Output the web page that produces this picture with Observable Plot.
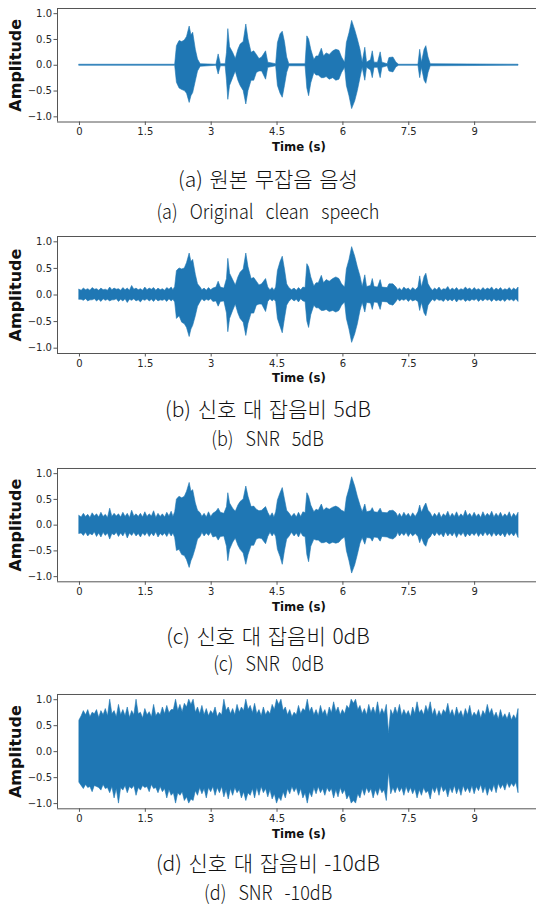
<!DOCTYPE html>
<html><head><meta charset="utf-8">
<script src="https://cdn.jsdelivr.net/npm/d3@7"></script>
<script src="https://cdn.jsdelivr.net/npm/@observablehq/plot@0.6"></script>
<style>
html,body{margin:0;padding:0;background:#fff}
body{width:536px;height:905px;overflow:hidden;position:relative}
.panel{position:absolute;left:0;max-width:none !important}
.cap{position:absolute;left:0;width:536px;text-align:center;font-family:"Noto Sans CJK KR","Noto Sans",sans-serif;font-weight:300;color:#111;white-space:nowrap;line-height:1}
.cap span{display:inline-block;transform-origin:center}
.k{font-size:21px;word-spacing:2px}
.e{font-size:20px;word-spacing:9px}
.e span{transform:scaleX(0.9)}
</style></head><body>
<script>
// ---- data ----
const xTicks = [0, 1.5, 3, 4.5, 6, 7.5, 9];
const xTickLabels = ["0", "1.5", "3", "4.5", "6", "7.5", "9"];
const yTicks = [-1, -0.5, 0, 0.5, 1];
const yTickLabels = ["\u22121.0", "\u22120.5", "0.0", "0.5", "1.0"];

const captionsKo = ["(a) 원본 무잡음 음성", "(b) 신호 대 잡음비 5dB", "(c) 신호 대 잡음비 0dB", "(d) 신호 대 잡음비 -10dB"];
const captionsEn = ["(a) Original clean speech", "(b) SNR 5dB", "(c) SNR 0dB", "(d) SNR -10dB"];

// (a) clean speech envelope
const tA  = [0.0,2.18,2.22,2.28,2.34,2.40,2.45,2.51,2.55,2.59,2.65,2.70,2.76,3.12,3.17,3.22,3.33,3.36,3.39,3.43,3.50,3.56,3.62,3.67,3.74,3.80,3.85,3.92,3.98,4.04,4.10,4.16,4.25,4.30,4.48,4.52,4.58,4.63,4.68,4.73,4.78,5.15,5.19,5.23,5.28,5.35,5.40,5.45,5.52,5.57,5.63,5.70,5.78,5.85,5.92,5.98,6.05,6.09,6.15,6.21,6.28,6.34,6.40,6.45,6.51,6.55,6.64,6.68,6.72,6.80,6.86,6.90,7.02,7.06,7.15,7.22,7.28,7.72,7.76,7.80,7.86,7.90,7.95,8.00,10.0];
const hiA = [0.01,0.01,0.37,0.47,0.45,0.48,0.55,0.75,0.58,0.63,0.30,0.11,0.02,0.01,0.21,0.02,0.02,0.24,0.70,0.35,0.24,0.12,0.30,0.40,0.45,0.79,0.50,0.24,0.27,0.20,0.12,0.15,0.27,0.05,0.02,0.43,0.60,0.65,0.45,0.15,0.02,0.02,0.56,0.50,0.30,0.10,0.17,0.17,0.32,0.17,0.23,0.20,0.27,0.30,0.28,0.15,0.05,0.43,0.62,0.86,0.68,0.50,0.30,0.05,0.34,0.05,0.10,0.27,0.05,0.05,0.25,0.05,0.02,0.14,0.15,0.05,0.01,0.01,0.30,0.05,0.30,0.37,0.15,0.02,0.01];
const loA = [-0.01,-0.01,-0.34,-0.45,-0.48,-0.50,-0.55,-0.73,-0.60,-0.54,-0.31,-0.12,-0.03,-0.01,-0.18,-0.02,-0.02,-0.30,-0.67,-0.40,-0.25,-0.12,-0.30,-0.40,-0.50,-0.76,-0.50,-0.30,-0.30,-0.15,-0.12,-0.12,-0.28,-0.05,-0.02,-0.40,-0.55,-0.63,-0.40,-0.15,-0.02,-0.02,-0.45,-0.60,-0.35,-0.15,-0.20,-0.20,-0.25,-0.25,-0.23,-0.28,-0.25,-0.30,-0.28,-0.15,-0.05,-0.40,-0.60,-0.85,-0.70,-0.50,-0.25,-0.05,-0.30,-0.05,-0.10,-0.25,-0.05,-0.05,-0.25,-0.05,-0.02,-0.12,-0.14,-0.04,-0.01,-0.01,-0.25,-0.05,-0.30,-0.36,-0.15,-0.02,-0.01];

// (b) SNR 5 dB envelope: peaks of the waveform
const tB  = [0.0,0.1,0.2,0.3,0.4,0.5,0.6,0.7,0.8,0.9,1.0,1.1,1.2,1.3,1.4,1.5,1.6,1.7,1.8,1.9,2.0,2.1,2.18,2.22,2.28,2.34,2.40,2.45,2.51,2.55,2.59,2.65,2.70,2.76,2.85,2.95,3.05,3.12,3.17,3.22,3.30,3.36,3.39,3.43,3.50,3.56,3.62,3.67,3.74,3.80,3.85,3.92,3.98,4.04,4.10,4.16,4.25,4.30,4.40,4.48,4.52,4.58,4.63,4.68,4.73,4.78,4.90,5.00,5.10,5.15,5.19,5.23,5.28,5.35,5.40,5.45,5.52,5.57,5.63,5.70,5.78,5.85,5.92,5.98,6.05,6.09,6.15,6.21,6.28,6.34,6.40,6.45,6.51,6.55,6.64,6.68,6.72,6.80,6.86,6.90,7.02,7.06,7.15,7.22,7.30,7.40,7.50,7.60,7.72,7.76,7.80,7.86,7.90,7.95,8.00,8.1,8.2,8.3,8.4,8.5,8.6,8.7,8.8,8.9,9.0,9.1,9.2,9.3,9.4,9.5,9.6,9.7,9.8,9.9,10.0];
const hiB = [0.10,0.12,0.11,0.13,0.11,0.12,0.10,0.14,0.12,0.11,0.13,0.12,0.17,0.12,0.11,0.14,0.12,0.13,0.12,0.11,0.13,0.14,0.15,0.45,0.50,0.48,0.50,0.60,0.78,0.62,0.66,0.38,0.20,0.14,0.12,0.13,0.12,0.14,0.25,0.14,0.12,0.30,0.68,0.40,0.28,0.18,0.33,0.42,0.48,0.78,0.52,0.30,0.32,0.25,0.18,0.20,0.30,0.14,0.13,0.14,0.45,0.62,0.72,0.48,0.20,0.13,0.12,0.13,0.14,0.13,0.58,0.52,0.33,0.16,0.22,0.22,0.36,0.22,0.28,0.25,0.30,0.33,0.30,0.20,0.14,0.48,0.66,0.90,0.72,0.52,0.35,0.15,0.37,0.15,0.17,0.30,0.15,0.14,0.28,0.14,0.13,0.20,0.20,0.14,0.12,0.14,0.12,0.13,0.14,0.35,0.14,0.34,0.40,0.20,0.13,0.12,0.14,0.11,0.15,0.12,0.13,0.11,0.14,0.12,0.13,0.11,0.13,0.12,0.14,0.12,0.13,0.11,0.13,0.12,0.14];
const loB = [-0.09,-0.11,-0.12,-0.10,-0.12,-0.13,-0.11,-0.12,-0.10,-0.13,-0.12,-0.15,-0.11,-0.12,-0.14,-0.11,-0.12,-0.13,-0.12,-0.11,-0.13,-0.12,-0.14,-0.45,-0.40,-0.52,-0.55,-0.62,-0.79,-0.65,-0.58,-0.40,-0.22,-0.13,-0.12,-0.11,-0.13,-0.12,-0.22,-0.13,-0.12,-0.35,-0.70,-0.45,-0.30,-0.18,-0.35,-0.45,-0.52,-0.77,-0.54,-0.35,-0.35,-0.20,-0.18,-0.18,-0.32,-0.13,-0.12,-0.13,-0.45,-0.60,-0.72,-0.45,-0.20,-0.13,-0.12,-0.14,-0.12,-0.13,-0.50,-0.62,-0.38,-0.20,-0.25,-0.25,-0.30,-0.30,-0.28,-0.32,-0.30,-0.33,-0.30,-0.20,-0.14,-0.45,-0.65,-0.90,-0.74,-0.55,-0.30,-0.15,-0.33,-0.15,-0.16,-0.28,-0.14,-0.15,-0.28,-0.13,-0.14,-0.18,-0.20,-0.13,-0.12,-0.11,-0.13,-0.12,-0.13,-0.30,-0.15,-0.35,-0.40,-0.20,-0.14,-0.12,-0.11,-0.13,-0.12,-0.12,-0.14,-0.11,-0.13,-0.12,-0.11,-0.13,-0.12,-0.11,-0.13,-0.12,-0.12,-0.13,-0.11,-0.12,-0.13];
// (b) valleys between the noise spikes
const tNoise = [0.05,0.15,0.25,0.35,0.45,0.55,0.65,0.75,0.85,0.95,1.05,1.15,1.25,1.35,1.45,1.55,1.65,1.75,1.85,1.95,2.05,2.14,2.80,2.90,3.00,4.35,4.44,4.84,4.95,5.05,7.26,7.35,7.45,7.55,7.66,8.05,8.15,8.25,8.35,8.45,8.55,8.65,8.75,8.85,8.95,9.05,9.15,9.25,9.35,9.45,9.55,9.65,9.75,9.85,9.95];
const hiB2 = [0.08,0.09,0.08,0.10,0.08,0.09,0.08,0.09,0.10,0.08,0.09,0.08,0.10,0.09,0.08,0.09,0.10,0.08,0.09,0.08,0.10,0.09,0.09,0.08,0.09,0.09,0.08,0.09,0.08,0.09,0.09,0.08,0.10,0.08,0.09,0.08,0.09,0.08,0.10,0.08,0.09,0.08,0.09,0.10,0.08,0.09,0.08,0.09,0.10,0.08,0.09,0.08,0.09,0.08,0.09];
const loB2 = [-0.09,-0.08,-0.10,-0.08,-0.09,-0.08,-0.09,-0.10,-0.08,-0.09,-0.08,-0.09,-0.08,-0.10,-0.09,-0.08,-0.09,-0.08,-0.10,-0.09,-0.08,-0.09,-0.08,-0.09,-0.08,-0.08,-0.09,-0.08,-0.09,-0.08,-0.08,-0.09,-0.08,-0.09,-0.10,-0.09,-0.08,-0.10,-0.08,-0.09,-0.08,-0.09,-0.08,-0.10,-0.09,-0.08,-0.09,-0.08,-0.09,-0.08,-0.10,-0.09,-0.08,-0.09,-0.08];

// (c) SNR 0 dB envelope: peaks of the waveform
const tC  = tB;
const hiC = [0.18,0.22,0.20,0.23,0.21,0.24,0.20,0.32,0.22,0.21,0.24,0.22,0.28,0.21,0.22,0.25,0.21,0.27,0.22,0.21,0.24,0.26,0.25,0.50,0.55,0.52,0.55,0.65,0.82,0.65,0.68,0.42,0.28,0.23,0.22,0.25,0.22,0.26,0.32,0.24,0.22,0.35,0.62,0.42,0.32,0.26,0.38,0.45,0.50,0.75,0.55,0.35,0.36,0.30,0.27,0.28,0.35,0.24,0.23,0.25,0.48,0.62,0.72,0.50,0.28,0.23,0.22,0.24,0.25,0.23,0.62,0.55,0.38,0.25,0.30,0.28,0.40,0.28,0.33,0.30,0.34,0.36,0.33,0.28,0.25,0.52,0.70,0.93,0.75,0.55,0.38,0.25,0.40,0.25,0.27,0.33,0.25,0.24,0.32,0.24,0.23,0.27,0.28,0.23,0.22,0.24,0.22,0.23,0.25,0.38,0.24,0.36,0.42,0.28,0.23,0.22,0.24,0.21,0.26,0.22,0.25,0.21,0.28,0.22,0.24,0.21,0.25,0.22,0.26,0.22,0.24,0.21,0.25,0.22,0.24];
const loC = [-0.17,-0.21,-0.22,-0.20,-0.23,-0.24,-0.21,-0.28,-0.20,-0.23,-0.22,-0.26,-0.21,-0.22,-0.24,-0.21,-0.23,-0.22,-0.24,-0.21,-0.23,-0.22,-0.25,-0.50,-0.48,-0.58,-0.60,-0.68,-0.83,-0.70,-0.62,-0.45,-0.28,-0.23,-0.22,-0.21,-0.24,-0.22,-0.30,-0.23,-0.22,-0.42,-0.70,-0.48,-0.34,-0.26,-0.40,-0.48,-0.55,-0.77,-0.58,-0.40,-0.40,-0.28,-0.26,-0.27,-0.37,-0.23,-0.22,-0.23,-0.48,-0.62,-0.77,-0.50,-0.28,-0.23,-0.22,-0.24,-0.22,-0.23,-0.58,-0.72,-0.42,-0.28,-0.30,-0.30,-0.35,-0.35,-0.33,-0.37,-0.34,-0.36,-0.34,-0.28,-0.24,-0.50,-0.70,-0.94,-0.78,-0.58,-0.36,-0.25,-0.38,-0.25,-0.26,-0.32,-0.24,-0.25,-0.32,-0.23,-0.24,-0.26,-0.28,-0.23,-0.22,-0.21,-0.23,-0.22,-0.23,-0.35,-0.25,-0.38,-0.42,-0.28,-0.24,-0.22,-0.21,-0.24,-0.22,-0.22,-0.25,-0.21,-0.24,-0.22,-0.21,-0.23,-0.22,-0.21,-0.23,-0.22,-0.22,-0.24,-0.21,-0.22,-0.25];
// (c) valleys between the noise spikes
const hiC2 = [0.15,0.16,0.14,0.17,0.15,0.16,0.14,0.16,0.17,0.15,0.16,0.14,0.17,0.16,0.15,0.16,0.17,0.14,0.16,0.15,0.17,0.16,0.16,0.15,0.16,0.16,0.15,0.16,0.15,0.16,0.16,0.15,0.17,0.15,0.16,0.15,0.16,0.14,0.17,0.15,0.16,0.15,0.16,0.17,0.15,0.16,0.14,0.16,0.17,0.15,0.16,0.15,0.16,0.14,0.16];
const loC2 = [-0.16,-0.15,-0.17,-0.14,-0.16,-0.15,-0.16,-0.17,-0.15,-0.16,-0.14,-0.16,-0.15,-0.17,-0.16,-0.15,-0.16,-0.14,-0.17,-0.16,-0.15,-0.16,-0.15,-0.16,-0.15,-0.15,-0.16,-0.15,-0.16,-0.15,-0.15,-0.16,-0.15,-0.16,-0.17,-0.16,-0.15,-0.17,-0.14,-0.16,-0.15,-0.16,-0.15,-0.17,-0.16,-0.15,-0.16,-0.14,-0.16,-0.15,-0.17,-0.16,-0.15,-0.16,-0.15];

// (d) SNR -10 dB envelope
const tD  = [0.00,0.05,0.10,0.15,0.20,0.25,0.30,0.35,0.40,0.45,0.50,0.55,0.60,0.65,0.70,0.75,0.80,0.85,0.90,0.95,1.00,1.05,1.10,1.15,1.20,1.25,1.30,1.35,1.40,1.45,1.50,1.55,1.60,1.65,1.70,1.75,1.80,1.85,1.90,1.95,2.00,2.05,2.10,2.15,2.20,2.25,2.30,2.35,2.40,2.45,2.50,2.55,2.60,2.65,2.70,2.75,2.80,2.85,2.90,2.95,3.00,3.05,3.10,3.15,3.20,3.25,3.30,3.35,3.40,3.45,3.50,3.55,3.60,3.65,3.70,3.75,3.80,3.85,3.90,3.95,4.00,4.05,4.10,4.15,4.20,4.25,4.30,4.35,4.40,4.45,4.50,4.55,4.60,4.65,4.70,4.75,4.80,4.85,4.90,4.95,5.00,5.05,5.10,5.15,5.20,5.25,5.30,5.35,5.40,5.45,5.50,5.55,5.60,5.65,5.70,5.75,5.80,5.85,5.90,5.95,6.00,6.05,6.10,6.15,6.20,6.25,6.30,6.35,6.40,6.45,6.50,6.55,6.60,6.65,6.70,6.75,6.80,6.85,6.90,6.95,7.00,7.05,7.10,7.15,7.20,7.25,7.30,7.35,7.40,7.45,7.50,7.55,7.60,7.65,7.70,7.75,7.80,7.85,7.90,7.95,8.00,8.05,8.10,8.15,8.20,8.25,8.30,8.35,8.40,8.45,8.50,8.55,8.60,8.65,8.70,8.75,8.80,8.85,8.90,8.95,9.00,9.05,9.10,9.15,9.20,9.25,9.30,9.35,9.40,9.45,9.50,9.55,9.60,9.65,9.70,9.75,9.80,9.85,9.90,9.95,10.00];
const hiD = [0.60,0.68,0.78,0.70,0.80,0.66,0.75,0.72,0.80,0.65,0.78,0.70,0.82,0.68,1.00,0.72,0.78,0.66,0.90,0.70,0.80,0.68,0.85,0.65,0.78,0.70,1.00,0.72,0.75,0.64,0.82,0.70,0.76,0.66,0.90,0.68,0.75,0.70,0.85,0.72,0.88,0.74,0.80,0.80,1.00,0.78,0.90,0.76,0.92,0.85,1.00,0.90,1.00,0.75,0.85,0.72,0.88,0.70,0.82,0.68,0.78,0.72,0.85,0.66,0.75,0.70,1.00,0.78,0.85,0.72,0.82,0.70,0.90,0.75,0.85,0.78,1.00,0.80,0.88,0.74,0.92,0.72,0.80,0.68,0.85,0.70,0.78,0.72,0.90,0.80,1.00,0.90,1.00,0.78,0.85,0.70,0.80,0.66,0.75,0.70,0.88,0.72,0.82,0.78,1.00,0.76,0.85,0.70,0.80,0.68,0.88,0.72,0.80,0.66,0.85,0.74,0.95,0.76,0.85,0.70,0.80,0.72,0.88,0.82,1.00,0.92,1.00,0.80,0.88,0.72,0.82,0.70,0.90,0.74,0.85,0.72,0.95,0.70,0.82,0.72,0.90,0.35,0.80,0.70,0.85,0.72,0.90,0.68,0.80,0.70,0.78,0.66,0.85,0.72,0.95,0.74,0.80,0.70,0.88,0.76,0.95,0.70,0.82,0.66,0.78,0.68,0.80,0.74,0.92,0.70,0.80,0.66,0.85,0.70,0.78,0.65,0.82,0.70,0.88,0.66,0.75,0.68,0.80,0.64,0.78,0.70,0.90,0.72,0.82,0.66,0.75,0.62,0.80,0.64,0.72,0.62,0.75,0.60,0.70,0.62,0.82];
const loD = [-0.60,-0.66,-0.72,-0.64,-0.70,-0.68,-0.78,-0.66,-0.68,-0.70,-0.75,-0.64,-0.72,-0.70,-0.80,-0.68,-0.90,-0.72,-1.00,-0.70,-0.75,-0.66,-0.80,-0.68,-0.72,-0.66,-0.85,-0.70,-0.75,-0.66,-0.70,-0.68,-0.78,-0.64,-0.72,-0.70,-0.80,-0.68,-0.78,-0.72,-0.90,-0.74,-0.85,-0.80,-1.00,-0.80,-0.85,-0.78,-0.95,-0.88,-1.00,-0.92,-0.95,-0.76,-0.85,-0.70,-0.82,-0.72,-0.90,-0.70,-0.78,-0.68,-0.85,-0.70,-0.80,-0.68,-0.88,-0.74,-0.92,-0.72,-0.85,-0.70,-0.80,-0.74,-0.90,-0.78,-0.95,-0.80,-0.85,-0.72,-0.90,-0.70,-0.85,-0.68,-0.80,-0.72,-0.88,-0.74,-0.92,-0.82,-1.00,-0.88,-0.95,-0.78,-0.90,-0.72,-0.82,-0.68,-0.78,-0.70,-0.85,-0.72,-0.90,-0.80,-1.00,-0.78,-0.88,-0.70,-0.82,-0.68,-0.80,-0.72,-0.85,-0.70,-0.78,-0.72,-0.90,-0.74,-0.88,-0.70,-0.82,-0.74,-0.92,-0.84,-1.00,-0.95,-1.00,-0.82,-0.90,-0.72,-0.85,-0.70,-0.80,-0.72,-0.90,-0.74,-0.85,-0.70,-0.80,-0.74,-0.95,-0.40,-0.82,-0.70,-0.80,-0.68,-0.78,-0.70,-0.85,-0.68,-0.80,-0.70,-0.82,-0.72,-0.90,-0.74,-0.85,-0.70,-0.80,-0.76,-0.92,-0.70,-0.80,-0.68,-0.85,-0.66,-0.78,-0.72,-0.88,-0.70,-0.80,-0.66,-0.82,-0.70,-0.85,-0.66,-0.78,-0.70,-0.80,-0.66,-0.82,-0.68,-0.76,-0.64,-0.80,-0.68,-0.85,-0.70,-0.78,-0.64,-0.80,-0.62,-0.72,-0.64,-0.75,-0.60,-0.70,-0.62,-0.68,-0.60,-0.80];

// ---- layout ----
function rows(t, hi, lo) { return t.map((x, j) => ({t: x, hi: hi[j], lo: lo[j]})); }
const panels = [
  {data: rows(tA, hiA, loA), top: 8.3,  h: 113.5, cap1: 178, cap2: 211},
  {data: rows(tB, hiB, loB).concat(rows(tNoise, hiB2, loB2)), top: 236.3, h: 117, cap1: 408, cap2: 438},
  {data: rows(tC, hiC, loC).concat(rows(tNoise, hiC2, loC2)), top: 467.7, h: 113.3, cap1: 635, cap2: 663},
  {data: rows(tD, hiD, loD), top: 694,  h: 114.3, cap1: 862.5, cap2: 892}
];

const blue = "#1f77b4", spine = "#555", ink = "#262626";
const MT = 6, MB = 40;

panels.forEach((p, i) => {
  const data = p.data.slice().sort((a, b) => a.t - b.t);
  const svg = Plot.plot({
    width: 540, height: MT + p.h + MB,
    marginTop: MT, marginBottom: MB, marginLeft: 57, marginRight: 0,
    style: {fontFamily: "DejaVu Sans", fontSize: "10px", color: ink, background: "transparent", overflow: "visible"},
    x: {domain: [-0.5, 10.5]},
    y: {domain: [-1.1, 1.1]},
    marks: [
      Plot.areaY(data, {x: "t", y1: "lo", y2: "hi", fill: blue, stroke: blue, strokeWidth: 0.6, curve: "linear"}),
      Plot.ruleY([1.1], {stroke: spine, strokeWidth: 1}),
      Plot.ruleY([-1.1], {stroke: spine, strokeWidth: 1}),
      Plot.ruleX([-0.5], {stroke: spine, strokeWidth: 1}),
      Plot.ruleX([10.5], {stroke: spine, strokeWidth: 1}),
      Plot.axisX({ticks: xTicks, tickFormat: (d) => xTickLabels[xTicks.indexOf(d)], tickSize: 3.5, tickPadding: 2.5, label: null, stroke: spine, fill: ink}),
      Plot.axisY({ticks: yTicks, tickFormat: (d) => yTickLabels[yTicks.indexOf(d)], tickSize: 3.5, tickPadding: 2, label: null, stroke: spine, fill: ink}),
      Plot.text(["Time (s)"], {frameAnchor: "bottom", dy: 25, lineAnchor: "middle", textAnchor: "middle", text: (d) => d, fontWeight: "bold", fontSize: 11.7, fill: "#111"}),
      Plot.text(["Amplitude"], {frameAnchor: "left", dx: -42, rotate: -90, textAnchor: "middle", lineAnchor: "middle", text: (d) => d, fontWeight: "bold", fontSize: 16, fill: "#111"})
    ]
  });
  svg.classList.add("panel");
  svg.style.maxWidth = "none";
  svg.style.width = "540px";
  svg.style.top = (p.top - MT) + "px";
  document.body.appendChild(svg);

  const c1 = document.createElement("div");
  c1.className = "cap k";
  c1.style.top = (p.cap1 - 10.5) + "px";
  c1.innerHTML = "<span></span>";
  c1.firstChild.textContent = captionsKo[i];
  document.body.appendChild(c1);

  const c2 = document.createElement("div");
  c2.className = "cap e";
  c2.style.top = (p.cap2 - 10) + "px";
  c2.innerHTML = "<span></span>";
  c2.firstChild.textContent = captionsEn[i];
  document.body.appendChild(c2);
});
</script>
</body></html>
